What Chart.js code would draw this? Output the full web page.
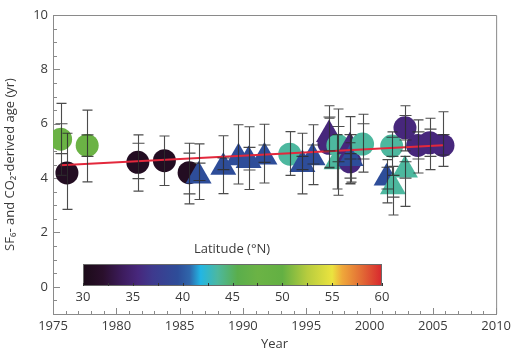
<!DOCTYPE html>
<html><head><meta charset="utf-8">
<script src="https://cdn.jsdelivr.net/npm/chart.js@4.4.1/dist/chart.umd.min.js"></script>
<style>html,body{margin:0;padding:0;background:#fff}canvas{display:block}</style>
</head><body>
<canvas id="c" width="515" height="355"></canvas>
<script>
// ---- data ----
const years     = [1975.6,1976.1,1977.7,1981.7,1983.8,1985.75,1986.5,1988.45,1989.65,1990.45,1991.7,1993.7,1994.7,1995.5,1996.8,1996.8,1997.5,1997.4,1998.45,1998.45,1998.5,1999.45,2001.35,2001.75,2001.85,2002.8,2002.8,2003.8,2004.75,2005.8];
const ages      = [5.43,4.19,5.20,4.58,4.64,4.20,4.08,4.40,4.75,4.65,4.78,4.88,4.50,4.75,5.28,5.60,5.20,4.60,5.15,4.60,4.72,5.25,4.00,5.18,3.68,4.30,5.85,5.20,5.30,5.20];
const latitudes = [47.5,31,47.5,31,31,31,39.5,39.5,39.5,39.5,39.5,43.5,39.5,39.5,35.5,35.5,43.5,43.5,35.5,35.5,39.5,43.5,39.5,43.5,43.5,43.5,35.5,35.5,35.5,35.5];
const shapes    = ['circle','circle','circle','circle','circle','circle','triangle','triangle','triangle','triangle','triangle','circle','triangle','triangle','circle','triangle','circle','triangle','triangle','circle','triangle','circle','triangle','circle','triangle','triangle','circle','circle','circle','circle'];
const errLow    = [4.10,2.85,3.86,3.52,3.73,3.05,3.21,3.43,3.78,3.58,3.82,4.10,3.42,3.76,4.40,4.37,3.37,3.60,3.78,3.80,3.85,4.22,3.09,4.10,2.64,2.96,5.00,4.19,4.31,4.43];
const errHigh   = [6.75,5.65,6.50,5.59,5.55,5.28,5.26,5.56,5.96,5.89,5.98,5.71,5.65,5.96,6.20,6.66,6.54,5.60,6.26,5.30,5.60,6.35,4.68,5.70,4.43,4.80,6.66,6.14,6.20,6.44];
const innerLow  = [4.90,null,4.80,3.98,null,3.42,3.91,4.31,null,4.30,4.58,null,4.31,4.52,null,5.00,4.60,null,4.70,4.00,null,4.70,3.60,4.80,3.30,4.00,5.40,4.70,4.80,4.85];
const innerHigh = [6.00,null,5.59,5.28,null,4.92,4.55,4.74,null,5.13,5.22,null,4.80,5.22,null,6.25,5.90,null,5.60,4.90,null,6.00,4.40,5.50,4.10,4.60,6.30,5.70,5.80,5.60];
const trendYears = [1975.6, 2005.8];
const trendAges  = [4.47, 5.21];
const xTickLabels = [1975,1980,1985,1990,1995,2000,2005,2010];
const yTickLabels = [0,2,4,6,8,10];
const latTickLabels = [30,35,40,45,50,55,60];

// ---- colormap (style) ----
const cmapStops = [
  [30,'#1b0b18'],[32,'#2a0f2c'],[34,'#3d1c5e'],[35.5,'#47277c'],[37,'#3e3a8e'],
  [39.5,'#2e4d99'],[40.7,'#2f66ab'],[41.8,'#22b6e4'],[43.5,'#4db89f'],[45.5,'#5aae4c'],
  [47.5,'#6bb345'],[50,'#63b043'],[52.5,'#b7cc3e'],[55,'#ebe33f'],[56,'#efa83a'],
  [58,'#e26a35'],[60,'#d8262e']];
function hex(h){return [parseInt(h.slice(1,3),16),parseInt(h.slice(3,5),16),parseInt(h.slice(5,7),16)];}
function cmap(v){
  for(let i=0;i<cmapStops.length-1;i++){
    const [a,ca]=cmapStops[i],[b,cb]=cmapStops[i+1];
    if(v<=b){const t=Math.max(0,(v-a)/(b-a));const A=hex(ca),B=hex(cb);
      return 'rgb('+A.map((x,k)=>Math.round(x+(B[k]-x)*t)).join(',')+')';}
  }
  return cmapStops[cmapStops.length-1][1];
}

const FONT = '"Open Sans", "DejaVu Sans", sans-serif';
const TXT = '#3a3a3a';
const AX = '#8a8a8a';

const scatterData = years.map((x,i)=>({x:x,y:ages[i]}));
const trendData = trendYears.map((x,i)=>({x:x,y:trendAges[i]}));

const decor = {
  id:'decor',
  beforeDatasetsDraw(chart){
    const {ctx, chartArea:ca, scales:{x,y}} = chart;
    ctx.save();
    ctx.strokeStyle = AX; ctx.lineWidth = 1;
    // top & right frame
    ctx.beginPath();
    ctx.moveTo(ca.left, ca.top+0.5); ctx.lineTo(ca.right+0.5, ca.top+0.5); ctx.lineTo(ca.right+0.5, ca.bottom);
    ctx.stroke();
    // x ticks inside
    ctx.beginPath();
    for(let v=x.min; v<=x.max; v+=1){
      const px=Math.round(x.getPixelForValue(v))+0.5;
      const len=(v%5===0)?6:3;
      ctx.moveTo(px, ca.bottom); ctx.lineTo(px, ca.bottom-len);
    }
    // y ticks inside
    for(let v=y.min; v<=y.max+1e-6; v+=0.5){
      const py=Math.round(y.getPixelForValue(v))+0.5;
      const len=(Math.abs(v%2)<1e-6)?7:4;
      ctx.moveTo(ca.left, py); ctx.lineTo(ca.left+len, py);
    }
    ctx.stroke();

    // colorbar
    const L=ca.left+30, R=ca.left+329, T=264, B=286;
    const g=ctx.createLinearGradient(L,0,R,0);
    cmapStops.forEach(([v,c])=>g.addColorStop((v-30)/30,c));
    ctx.fillStyle=g; ctx.fillRect(L,T,R-L,B-T);
    ctx.strokeStyle='#6a6a6a'; ctx.lineWidth=1;
    ctx.strokeRect(L+0.5,T+0.5,R-L-1,B-T-1);
    ctx.strokeStyle='#333'; ctx.beginPath();
    for(let v=30; v<=60; v+=2.5){
      const px=Math.round(L+(v-30)/30*(R-L))+0.5;
      ctx.moveTo(px,B); ctx.lineTo(px,B-3);
    }
    ctx.stroke();
    ctx.fillStyle=TXT; ctx.font='13px '+FONT; ctx.textAlign='center'; ctx.textBaseline='middle';
    latTickLabels.forEach(v=>{ ctx.fillText(String(v), L+(v-30)/30*(R-L), 297); });
    ctx.fillText('Latitude (°N)', 232, 249);
    ctx.restore();
  },
  afterDatasetsDraw(chart){
    const {ctx, scales:{x,y}} = chart;
    ctx.save();
    ctx.strokeStyle='rgba(45,45,45,0.85)'; ctx.lineWidth=1.1;
    ctx.beginPath();
    years.forEach((yr,i)=>{
      const px=Math.round(x.getPixelForValue(yr))+0.5;
      const lo=y.getPixelForValue(errLow[i]), hi=y.getPixelForValue(errHigh[i]);
      ctx.moveTo(px,lo); ctx.lineTo(px,hi);
      ctx.moveTo(px-5,lo); ctx.lineTo(px+5,lo);
      ctx.moveTo(px-5,hi); ctx.lineTo(px+5,hi);
      if(innerLow[i]!==null){const p=y.getPixelForValue(innerLow[i]); ctx.moveTo(px-6,p); ctx.lineTo(px+6,p);}
      if(innerHigh[i]!==null){const p=y.getPixelForValue(innerHigh[i]); ctx.moveTo(px-6,p); ctx.lineTo(px+6,p);}
    });
    ctx.stroke();
    ctx.restore();
  }
};

new Chart(document.getElementById('c'), {
  type:'scatter',
  data:{datasets:[
    {type:'line', data:trendData, borderColor:'#e3283c', borderWidth:2, pointRadius:0, order:0},
    {type:'scatter', data:scatterData, order:1,
     pointStyle:shapes,
     pointRadius:shapes.map(s=>s==='circle'?11.5:15),
     backgroundColor:latitudes.map(cmap),
     borderWidth:0, pointBorderWidth:0}
  ]},
  options:{
    responsive:false, animation:false, devicePixelRatio:1,
    layout:{padding:{top:12,right:14,left:0,bottom:0}},
    plugins:{legend:{display:false}, tooltip:{enabled:false}},
    scales:{
      x:{type:'linear', min:1975, max:2010,
         afterBuildTicks(s){ s.ticks = xTickLabels.map(v=>({value:v})); },
         afterFit(s){ s.height = 41; },
         grid:{display:false, drawTicks:false},
         border:{display:true, color:AX, width:1},
         ticks:{color:TXT, font:{family:FONT,size:13}, padding:4, maxRotation:0, callback:v=>String(v)},
         title:{display:true, text:'Year', color:TXT, font:{family:FONT,size:13}, padding:{top:0,bottom:3}}
      },
      y:{type:'linear', min:-1, max:10,
         afterBuildTicks(s){ s.ticks = yTickLabels.map(v=>({value:v})); },
         afterFit(s){ s.width = 53; },
         grid:{display:false, drawTicks:false},
         border:{display:true, color:AX, width:1},
         ticks:{color:TXT, font:{family:FONT,size:13}, padding:5, callback:v=>String(v)},
         title:{display:true, text:'SF₆- and CO₂-derived age (yr)', color:TXT, font:{family:FONT,size:13}, padding:{top:2,bottom:0}}
      }
    }
  },
  plugins:[decor]
});
</script>
</body></html>
